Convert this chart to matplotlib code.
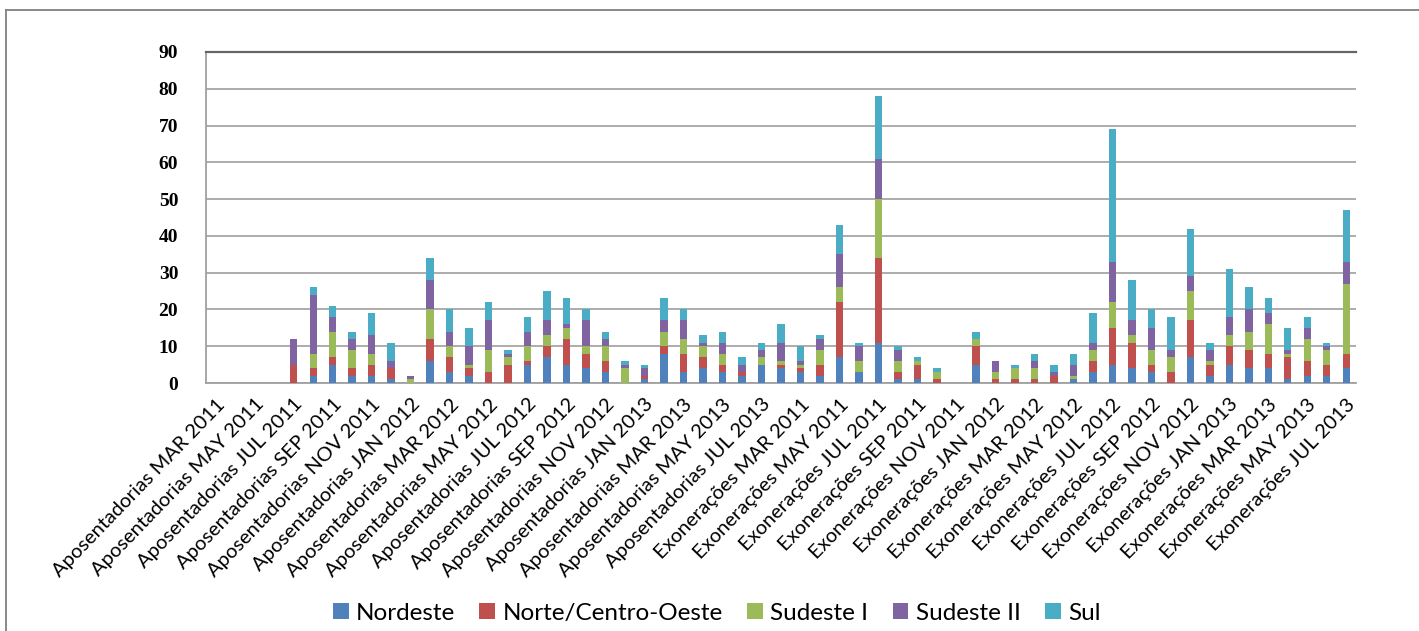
import matplotlib
matplotlib.use("Agg")
import matplotlib.pyplot as plt
import numpy as np
from matplotlib.lines import Line2D

# --- Categorias (meses) ---
MESES = ["JAN", "FEB", "MAR", "APR", "MAY", "JUN", "JUL", "AUG", "SEP", "OCT", "NOV", "DEC"]

def gerar_meses(ini_mes, ini_ano, fim_mes, fim_ano):
    lista = []
    m, a = ini_mes, ini_ano
    while (a, m) <= (fim_ano, fim_mes):
        lista.append(f"{MESES[m - 1]} {a}")
        m += 1
        if m > 12:
            m, a = 1, a + 1
    return lista

apos_meses = gerar_meses(3, 2011, 7, 2013)
exon_meses = gerar_meses(2, 2011, 7, 2013)
categorias = ["Aposentadorias " + m for m in apos_meses] + ["Exonerações " + m for m in exon_meses]

# --- Valores por região ---
nordeste = [0, 0, 0, 0, 0, 2, 5, 2, 2, 1, 0, 6, 3, 2, 0, 0, 5, 7, 5, 4, 3, 0, 1, 8, 3, 4, 3, 2, 5,
            4, 3, 2, 7, 3, 11, 1, 1, 0, 0, 5, 0, 0, 0, 0, 1, 3, 5, 4, 3, 0, 7, 2, 5, 4, 4, 1, 2, 2, 4]
norte_co = [0, 0, 0, 0, 5, 2, 2, 2, 3, 3, 0, 6, 4, 2, 3, 5, 1, 3, 7, 4, 3, 0, 1, 2, 5, 3, 2, 1, 0,
            1, 1, 3, 15, 0, 23, 2, 4, 1, 0, 5, 1, 1, 1, 2, 0, 3, 10, 7, 2, 3, 10, 3, 5, 5, 4, 6, 4, 3, 4]
sudeste1 = [0, 0, 0, 0, 0, 4, 7, 5, 3, 0, 1, 8, 3, 1, 6, 2, 4, 3, 3, 2, 4, 4, 0, 4, 4, 3, 3, 0, 2,
            1, 1, 4, 4, 3, 16, 3, 1, 2, 0, 2, 2, 3, 3, 0, 1, 3, 7, 2, 4, 4, 8, 1, 3, 5, 8, 1, 6, 4, 19]
sudeste2 = [0, 0, 0, 0, 7, 16, 4, 3, 5, 2, 1, 8, 4, 5, 8, 1, 4, 4, 1, 7, 2, 1, 2, 3, 5, 1, 3, 2, 2,
            5, 1, 3, 9, 4, 11, 3, 0, 0, 0, 0, 3, 0, 2, 1, 3, 2, 11, 4, 6, 2, 4, 3, 5, 6, 3, 1, 3, 1, 6]
sul = [0, 0, 0, 0, 0, 2, 3, 2, 6, 5, 0, 6, 6, 5, 5, 1, 4, 8, 7, 3, 2, 1, 1, 6, 3, 2, 3, 2, 2,
       5, 4, 1, 8, 1, 17, 1, 1, 1, 0, 2, 0, 1, 2, 2, 3, 8, 36, 11, 5, 9, 13, 2, 13, 6, 4, 6, 3, 1, 14]

series = [
    ("Nordeste", nordeste, "#4F81BD"),
    ("Norte/Centro-Oeste", norte_co, "#C0504D"),
    ("Sudeste I", sudeste1, "#9BBB59"),
    ("Sudeste II", sudeste2, "#8064A2"),
    ("Sul", sul, "#4BACC6"),
]

# --- Figura ---
fig = plt.figure(figsize=(14.19, 6.31), dpi=100)
ax = fig.add_axes([206 / 1419, 1 - 383 / 631, 1150 / 1419, 331 / 631])

x = np.arange(len(categorias))
base = np.zeros(len(categorias))
for nome, valores, cor in series:
    v = np.array(valores, dtype=float)
    ax.bar(x, v, bottom=base, width=0.38, color=cor, label=nome, linewidth=0, zorder=3)
    base += v

ax.set_xlim(-0.5, len(categorias) - 0.5)
ax.set_ylim(0, 90)
ax.set_yticks(range(0, 91, 10))
ax.yaxis.grid(True, color="#A6A6A6", linewidth=1.3, zorder=0)
ax.tick_params(axis="y", length=0, pad=20)
for t in ax.get_yticklabels():
    t.set_fontfamily("Liberation Serif")
    t.set_fontweight("bold")
    t.set_fontsize(14)

# rótulos do eixo x: um a cada dois meses
ax.set_xticks(x[::2])
ax.set_xticklabels(categorias[::2], rotation=46, ha="right", va="top",
                   rotation_mode="anchor", fontsize=14.5, family="Lato")
ax.tick_params(axis="x", length=0, pad=9)

for lado in ["left", "bottom"]:
    ax.spines[lado].set_color("#A0A0A0")
    ax.spines[lado].set_linewidth(1.3)
ax.spines["right"].set_visible(False)
ax.spines["top"].set_color("#666666")
ax.spines["top"].set_linewidth(1.6)

fig.legend(loc="center", bbox_to_anchor=(0.505, 0.028), ncol=5, frameon=False,
           prop={"family": "Lato", "size": 17.5}, handlelength=0.65, handleheight=0.65,
           handletextpad=0.3, columnspacing=1.0)

# moldura externa (topo e lado esquerdo)
xl, yt = 6 / 1419, 1 - 10 / 631
fig.add_artist(Line2D([xl, 1.0], [yt, yt], transform=fig.transFigure, color="#808080", lw=1.3))
fig.add_artist(Line2D([xl, xl], [0.0, yt], transform=fig.transFigure, color="#808080", lw=1.3))

fig.savefig("out.png", dpi=100)
